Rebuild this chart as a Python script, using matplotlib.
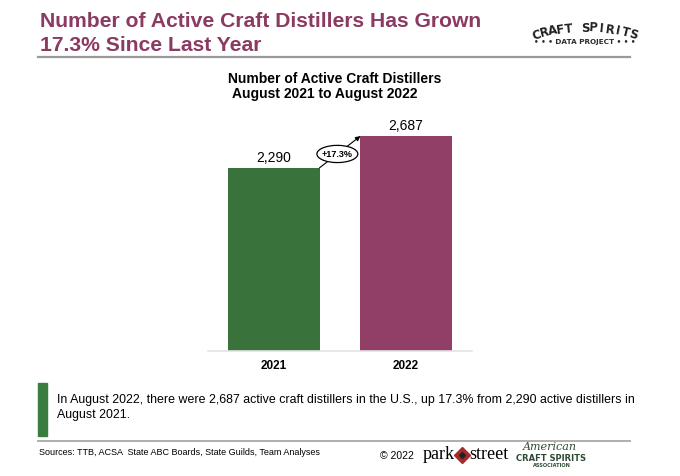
import numpy as np
import matplotlib
matplotlib.use("Agg")
from matplotlib import pyplot as plt
from matplotlib.lines import Line2D
from matplotlib.patches import Rectangle, Ellipse

plt.rcParams['font.family'] = ['Liberation Sans', 'DejaVu Sans']

years = ["2021", "2022"]
distillers = [2290, 2687]
growth_label = "+17.3%"
bar_colors = ["#3a723b", "#913f66"]

title_lines = ["Number of Active Craft Distillers Has Grown", "17.3% Since Last Year"]
chart_title_lines = ["Number of Active Craft Distillers", "August 2021 to August 2022"]
note_lines = ["In August 2022, there were 2,687 active craft distillers in the U.S., up 17.3% from 2,290 active distillers in",
              "August 2021."]
sources = "Sources: TTB, ACSA  State ABC Boards, State Guilds, Team Analyses"

W, H = 680, 477
fig = plt.figure(figsize=(6.8, 4.77), dpi=100)


def fx(px):
    return px / W


def fy(py):
    return 1 - py / H


# header
for line, base in zip(title_lines, [27, 51]):
    fig.text(fx(40), fy(base), line, color="#8b3a62", fontsize=15.2, fontweight="bold",
             va="baseline", ha="left")
fig.add_artist(Line2D([fx(38), fx(630)], [fy(57.5), fy(57.5)], color="#9a9a9a", lw=1.6))

# craft spirits logo (curved text)
logo = "CRAFT SPIRITS"
cx, cy, r = 585, 199, 171
angles = np.linspace(106.5, 73.5, len(logo))
for ch, a in zip(logo, angles):
    t = np.deg2rad(a)
    x = cx + r * np.cos(t)
    y = cy - r * np.sin(t)
    fig.text(fx(x), fy(y), ch, fontsize=8.5, color="#1f241f", ha="center", va="center",
             rotation=a - 90, fontweight="semibold", family=["DejaVu Sans"])
fig.text(fx(585), fy(42.5), "• • • DATA PROJECT • • •", fontsize=5.2, color="#2b2b2b",
         ha="center", va="center", fontweight="bold", family=["DejaVu Sans"])

# chart
ax = fig.add_axes([fx(208), fy(352), fx(472) - fx(208), 240 / H])
x = np.arange(len(years))
ax.bar(x, distillers, width=0.69, color=bar_colors, zorder=2)
ax.set_xlim(-0.5, 1.5)
ax.set_ylim(0, 3000)
ax.set_yticks([])
ax.set_xticks(x)
ax.set_xticklabels(years, fontsize=8.5, fontweight="bold")
ax.tick_params(axis="x", length=0, pad=6)
for s in ["top", "right", "left"]:
    ax.spines[s].set_visible(False)
ax.spines["bottom"].set_color("#e3e3e3")
ax.spines["bottom"].set_linewidth(1.2)
for xi, v in zip(x, distillers):
    ax.text(xi, v + 85, f"{v:,}", ha="center", va="baseline", fontsize=10)

# growth arrow with ellipse callout
x0, x1 = 0.345, 1 - 0.345
ax.annotate("", xy=(x1, distillers[1]), xytext=(x0, distillers[0]),
            arrowprops=dict(arrowstyle="-|>", color="black", lw=0.8, mutation_scale=7,
                            shrinkA=0, shrinkB=0))
ex = 0.48
ey = distillers[0] + (ex - x0) / (x1 - x0) * (distillers[1] - distillers[0])
ax.add_patch(Ellipse((ex, ey), 0.31, 215, fc="white", ec="black", lw=0.9, zorder=4))
ax.text(ex, ey, growth_label, ha="center", va="center", fontsize=6.5, fontweight="bold",
        zorder=5)

fig.text(fx(228), fy(83), chart_title_lines[0], ha="left", va="baseline",
         fontsize=10, fontweight="bold")
fig.text(fx(232), fy(98), chart_title_lines[1], ha="left", va="baseline",
         fontsize=10, fontweight="bold")

# note box
fig.add_artist(Rectangle((fx(38), fy(437)), fx(9), (437 - 384) / H, transform=fig.transFigure,
                         color="#3a7d3f"))
for line, base in zip(note_lines, [403, 418]):
    fig.text(fx(57), fy(base), line, ha="left", va="baseline", fontsize=8.9)

# footer
fig.add_artist(Line2D([fx(38), fx(630)], [fy(441.5), fy(441.5)], color="#a8a8a8", lw=1.3))
fig.text(fx(39), fy(455), sources, ha="left", va="baseline", fontsize=6.45)
fig.text(fx(380), fy(459), "© 2022", ha="left", va="baseline", fontsize=7.5)
fig.text(fx(423), fy(459.5), "park", ha="left", va="baseline", fontsize=13, family=["Liberation Serif"])
fig.add_artist(Line2D([fx(462)], [fy(456)], marker="D", markersize=8, color="#a52a2a",
                      markeredgecolor="#a52a2a"))
fig.add_artist(Line2D([fx(462)], [fy(456)], marker="D", markersize=3, color="#222222"))
fig.text(fx(469), fy(459.5), "street", ha="left", va="baseline", fontsize=13, family=["Liberation Serif"])
fig.text(fx(550), fy(447), "American", ha="center", va="center", fontsize=8, style="italic",
         color="#2f4a33", family=["DejaVu Serif"])
fig.text(fx(551), fy(459), "CRAFT SPIRITS", ha="center", va="center", fontsize=6,
         fontweight="bold", color="#2f4a33", family=["DejaVu Sans"])
fig.text(fx(552), fy(466), "ASSOCIATION", ha="center", va="center", fontsize=3.6,
         fontweight="bold", color="#2f4a33", family=["DejaVu Sans"])

fig.savefig("out.png", dpi=100)
